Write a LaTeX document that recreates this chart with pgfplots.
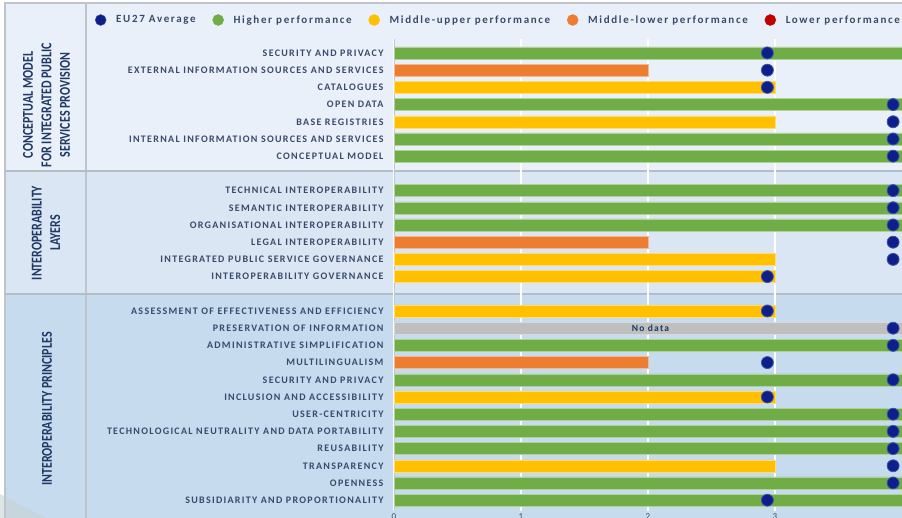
\documentclass[border=0pt]{standalone}
\usepackage{fontspec}
\setmainfont{Carlito}
\newfontfamily\lblfont{Carlito}[LetterSpace=13]
\newfontfamily\legfont{Carlito}[LetterSpace=15]
\usepackage{pgfplots}
\pgfplotsset{compat=1.18}
\definecolor{cgreen}{HTML}{70AD47}
\definecolor{corange}{HTML}{ED7D31}
\definecolor{cyellow}{HTML}{FFC000}
\definecolor{cgrey}{HTML}{BFBFBF}
\definecolor{cred}{HTML}{C00000}
\definecolor{dotc}{HTML}{0E1E8A}
\definecolor{dotedge}{HTML}{3A56A8}
\definecolor{labelc}{HTML}{3B4A6B}
\definecolor{grpc}{HTML}{1F3864}
\definecolor{bgA}{HTML}{EAF0F9}
\definecolor{bgB}{HTML}{DAE6F3}
\definecolor{bgC}{HTML}{C7DBEE}
\definecolor{linec}{HTML}{BFC4CC}
\definecolor{sepc}{HTML}{B4BCC6}
\definecolor{axisc}{HTML}{C0C8D2}
\begin{document}
\begin{tikzpicture}[x=1pt,y=-1pt]
\useasboundingbox (0,0) rectangle (902,518);
\clip (0,0) rectangle (902,518);
\fill[white] (0,0) rectangle (902,518);
\fill[bgA] (5,3) rectangle (902,171);
\fill[bgB] (5,171) rectangle (902,294);
\fill[bgC] (5,294) rectangle (902,518);
\fill[teal!25!gray!35!white, opacity=0.6] (0,494) .. controls (15,502) and (30,510) .. (48,518) -- (0,518) -- cycle;
\draw[linec, line width=1.5pt] (5,518) -- (5,3) -- (902,3);
\draw[linec, line width=1.5pt] (86,3) -- (86,518);
\draw[sepc, line width=2pt] (5,171) -- (902,171);
\draw[sepc, line width=2pt] (5,294) -- (902,294);
\node[rotate=90, xscale=0.8, align=center, text=grpc, font=\fontsize{15}{18.5}\selectfont\bfseries] at (46.5,105) {CONCEPTUAL MODEL\\FOR INTEGRATED PUBLIC\\SERVICES PROVISION};
\node[rotate=90, xscale=0.8, align=center, text=grpc, font=\fontsize{15}{18.5}\selectfont\bfseries] at (46,233) {INTEROPERABILITY\\LAYERS};
\node[rotate=90, xscale=0.8, align=center, text=grpc, font=\fontsize{15}{18.5}\selectfont\bfseries] at (47,409) {INTEROPERABILITY PRINCIPLES};
\begin{axis}[
  at={(394pt,-39.2pt)}, anchor=north west,
  scale only axis, width=508pt, height=471.3pt,
  xmin=0, xmax=4, ymin=-0.8, ymax=26.6, y dir=reverse,
  axis lines*=left, axis line style={-},
  x axis line style={draw=none},
  y axis line style={draw=axisc, line width=0.8pt},
  major tick length=0pt, tick style={draw=none},
  xtick={0,1,2,3},
  xmajorgrids, grid style={white, line width=1.3pt},
  /pgf/number format/assume math mode=true,
  xticklabel style={font=\fontsize{9}{9}\selectfont, text=labelc},
  ytick={0,1,2,3,4,5,6,8,9,10,11,12,13,15,16,17,18,19,20,21,22,23,24,25,26},
  yticklabels={SECURITY AND PRIVACY, EXTERNAL INFORMATION SOURCES AND SERVICES, CATALOGUES, OPEN DATA, BASE REGISTRIES, INTERNAL INFORMATION SOURCES AND SERVICES, CONCEPTUAL MODEL,
  TECHNICAL INTEROPERABILITY, SEMANTIC INTEROPERABILITY, ORGANISATIONAL INTEROPERABILITY, LEGAL INTEROPERABILITY, INTEGRATED PUBLIC SERVICE GOVERNANCE, INTEROPERABILITY GOVERNANCE,
  ASSESSMENT OF EFFECTIVENESS AND EFFICIENCY, PRESERVATION OF INFORMATION, ADMINISTRATIVE SIMPLIFICATION, MULTILINGUALISM, SECURITY AND PRIVACY, INCLUSION AND ACCESSIBILITY, USER-CENTRICITY, TECHNOLOGICAL NEUTRALITY AND DATA PORTABILITY, REUSABILITY, TRANSPARENCY, OPENNESS, SUBSIDIARITY AND PROPORTIONALITY},
  yticklabel style={font={\fontsize{10}{12}\lblfont\bfseries}, text=labelc, xshift=-7pt},
  legend columns=5,
  legend image code/.code={\path[draw=none, fill=none] (0pt,0pt) rectangle (13.5pt,0.1pt); \draw[#1] plot coordinates {(0pt,0pt)};},
  legend style={at={(axis description cs:-0.5945,1.0407)}, anchor=west, draw=none, fill=none,
    font={\fontsize{11}{12}\legfont\bfseries}, text=labelc,
    /tikz/every even column/.append style={column sep=15pt}},
]
\addplot[xbar, bar width=12pt, bar shift=0pt, fill=cgreen, draw=cgreen!55!white, line width=0.5pt, forget plot] coordinates {(4,0) (4,3) (4,5) (4,6) (4,8) (4,9) (4,10) (4,17) (4,19) (4,21) (4,22) (4,23) (4,25) (4,26)};
\addplot[xbar, bar width=12pt, bar shift=0pt, fill=corange, draw=corange!55!white, line width=0.5pt, forget plot] coordinates {(2,1) (2,11) (2,18)};
\addplot[xbar, bar width=12pt, bar shift=0pt, fill=cyellow, draw=cyellow!55!white, line width=0.5pt, forget plot] coordinates {(3,2) (3,4) (3,12) (3,13) (3,15) (3,20) (3,24)};
\addplot[xbar, bar width=12pt, bar shift=0pt, fill=cgrey, draw=cgrey!60!white, line width=0.5pt, forget plot] coordinates {(4,16)};
\addplot[only marks, mark=*, mark size=6pt, mark options={fill=dotc, draw=dotedge, line width=0.8pt}, forget plot] coordinates {
(2.94,0) (2.94,1) (2.94,2) (3.93,3) (3.93,4) (3.93,5) (3.93,6)
(3.93,8) (3.93,9) (3.93,10) (3.93,11) (3.93,12) (2.94,13)
(2.94,15) (3.93,16) (3.93,17) (2.94,18) (3.93,19) (2.94,20) (3.93,21) (3.93,22) (3.93,23) (3.93,24) (3.93,25) (2.94,26)};
\node[font={\fontsize{9.5}{10}\lblfont\bfseries}, text=grpc] at (axis cs:2.02,16) {No data};
\addlegendimage{only marks, mark=*, mark size=5.5pt, mark options={fill=dotc, draw=dotedge}}
\addlegendentry{EU27 Average}
\addlegendimage{only marks, mark=*, mark size=5.5pt, mark options={fill=cgreen, draw=cgreen}}
\addlegendentry{Higher performance}
\addlegendimage{only marks, mark=*, mark size=5.5pt, mark options={fill=cyellow, draw=cyellow}}
\addlegendentry{Middle-upper performance}
\addlegendimage{only marks, mark=*, mark size=5.5pt, mark options={fill=corange, draw=corange}}
\addlegendentry{Middle-lower performance}
\addlegendimage{only marks, mark=*, mark size=5.5pt, mark options={fill=cred, draw=cred}}
\addlegendentry{Lower performance}
\end{axis}
\end{tikzpicture}
\end{document}
